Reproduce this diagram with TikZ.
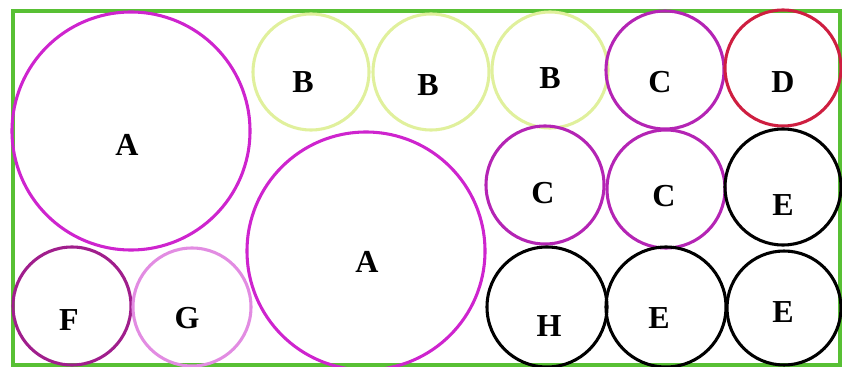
\documentclass[tikz,border=0pt]{standalone}
\usepackage{fontspec}
\setmainfont{Liberation Serif}
\usepackage{xcolor}
\usepackage{tikz}

\definecolor{boxgreen}{RGB}{88,192,52}
\definecolor{amag}{RGB}{206,36,206}
\definecolor{bpale}{RGB}{224,240,156}
\definecolor{cpurp}{RGB}{180,36,180}
\definecolor{dred}{RGB}{206,30,64}
\definecolor{fplum}{RGB}{160,30,140}
\definecolor{gpink}{RGB}{226,140,226}

\begin{document}
\begin{tikzpicture}[
  x=0.75pt, y=-0.75pt,
  ball/.style={circle, draw, line width=2.3pt, inner sep=0pt, minimum size=#1*1.5pt},
  lbl/.style={font=\fontsize{24}{24}\selectfont\bfseries, inner sep=0pt}
]
\useasboundingbox (0,0) rectangle (842,367);
\draw[boxgreen, line width=2.4pt] (13,11) rectangle (840,365);

% big ones
\node[ball=119, draw=amag] (a1) at (131,131) {};
\node[ball=119, draw=amag] (a2) at (366,251) {};
% top row
\node[ball=58, draw=bpale] (b1) at (311,72) {};
\node[ball=58, draw=bpale] (b2) at (431,72) {};
\node[ball=58, draw=bpale] (b3) at (550,70) {};
\node[ball=59, draw=cpurp] (c1) at (665,70) {};
\node[ball=58, draw=dred] (d) at (783,68) {};
% middle row
\node[ball=59, draw=cpurp] (c2) at (545,185) {};
\node[ball=59, draw=cpurp] (c3) at (666,189) {};
\node[ball=58, draw=black] (e1) at (783,187) {};
% bottom row
\node[ball=59, draw=fplum] (f) at (72,306) {};
\node[ball=59, draw=gpink] (g) at (192,307) {};
\node[ball=60, draw=black] (h) at (547,307) {};
\node[ball=60, draw=black] (e2) at (666,307) {};
\node[ball=57, draw=black] (e3) at (784,308) {};

% letters
\node[lbl] (ta1) at (127,145) {A};
\node[lbl] (ta2) at (367,262) {A};
\node[lbl] (tb1) at (303,82) {B};
\node[lbl] (tb2) at (428,85) {B};
\node[lbl] (tb3) at (550,78) {B};
\node[lbl] (tc1) at (660,82) {C};
\node[lbl] (td) at (783,82) {D};
\node[lbl] (tc2) at (543,193) {C};
\node[lbl] (tc3) at (664,196) {C};
\node[lbl] (te1) at (783,205) {E};
\node[lbl] (tf) at (69,320) {F};
\node[lbl] (tg) at (187,318) {G};
\node[lbl] (th) at (549,326) {H};
\node[lbl] (te2) at (659,318) {E};
\node[lbl] (te3) at (783,312) {E};
\end{tikzpicture}
\end{document}
